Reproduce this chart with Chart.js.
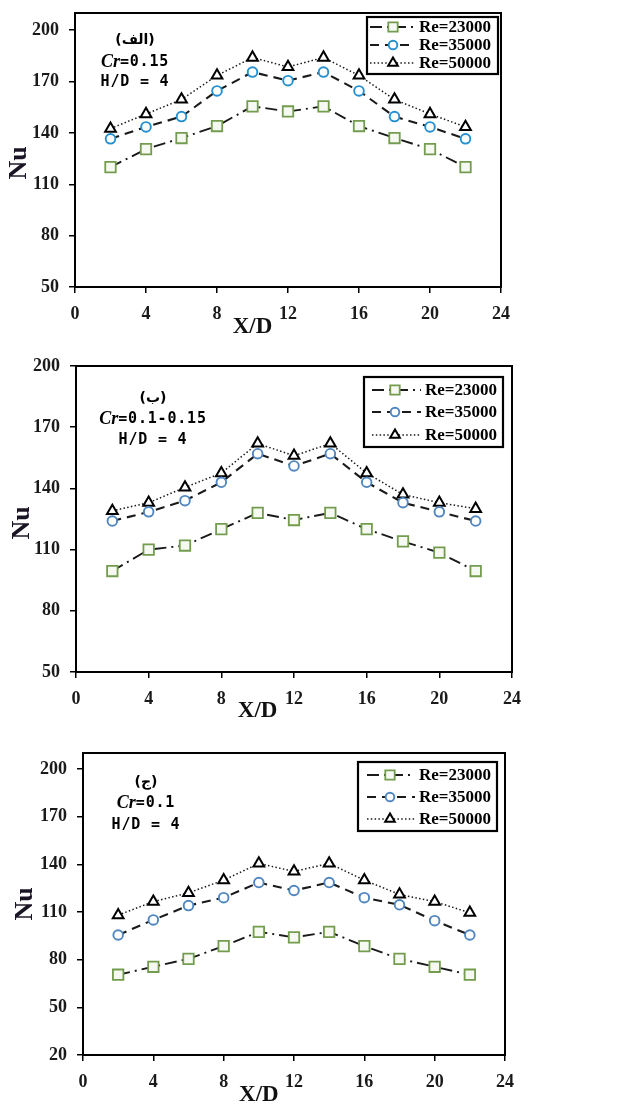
<!DOCTYPE html>
<html>
<head>
<meta charset="utf-8">
<script src="https://cdn.jsdelivr.net/npm/chart.js@4.4.1/dist/chart.umd.min.js"></script>
<style>
  html, body { margin: 0; padding: 0; background: #ffffff; }
  body { width: 644px; height: 1104px; position: relative; overflow: hidden; }
  .panel { position: absolute; left: 0; width: 644px; }
</style>
</head>
<body>
<div class="panel" id="p1" style="top:0px;height:340px;"><canvas id="c1"></canvas></div>
<div class="panel" id="p2" style="top:350px;height:372px;"><canvas id="c2"></canvas></div>
<div class="panel" id="p3" style="top:720px;height:384px;"><canvas id="c3"></canvas></div>
<script>
// ---------- data ----------
const xdValues = [2, 4, 6, 8, 10, 12, 14, 16, 18, 20, 22];
const seriesLabels = ['Re=23000', 'Re=35000', 'Re=50000'];
const xTicks = [0, 4, 8, 12, 16, 20, 24];

// (الف) Cr = 0.15
const a_re23000 = [120, 130.5, 137, 144, 155.5, 152.5, 155.5, 144, 137, 130.5, 120];
const a_re35000 = [136.5, 143.5, 149.5, 164.5, 175.5, 170.5, 175.5, 164.5, 149.5, 143.5, 136.5];
const a_re50000 = [142.5, 151, 159.5, 173.5, 184, 178.5, 184, 173.5, 159.5, 151, 143.5];
const a_yTicks = [50, 80, 110, 140, 170, 200];

// (ب) Cr = 0.1-0.15
const b_re23000 = [99.5, 110, 112, 120, 128, 124.5, 128, 120, 114, 108.5, 99.5];
const b_re35000 = [124, 128.5, 134, 143, 157, 151, 157, 143, 133, 128.5, 124];
const b_re50000 = [129, 133, 140.5, 147.5, 162, 156, 162, 147.5, 137, 133, 130];
const b_yTicks = [50, 80, 110, 140, 170, 200];

// (ج) Cr = 0.1
const c_re23000 = [70.5, 75.5, 80.5, 88.5, 97.5, 94, 97.5, 88.5, 80.5, 75.5, 70.5];
const c_re35000 = [95.5, 105, 114, 119, 128.5, 123.5, 128.5, 119, 114.5, 104.5, 95.5];
const c_re50000 = [108, 116.5, 122, 130, 140.5, 135.5, 140.5, 130, 121, 116.5, 109.5];
const c_yTicks = [20, 50, 80, 110, 140, 170, 200];

const panelTags = ['(الف)', '(ب)', '(ج)'];
const panelCr = ['0.15', '0.1-0.15', '0.1'];
const xTitle = 'X/D';
const yTitle = 'Nu';

// ---------- styles ----------
const SERIF = '"Liberation Serif", "Times New Roman", serif';
const MONO = '"DejaVu Sans Mono", monospace';

function makeDatasets(v23, v35, v50, circleColor) {
  const pts = v => xdValues.map((x, i) => ({ x: x, y: v[i] }));
  return [
    { label: seriesLabels[0], data: pts(v23), borderColor: '#1a1a1a', borderWidth: 1.9,
      borderDash: [12, 5, 2, 5], pointStyle: 'rect', pointRadius: 7.4, pointBorderWidth: 1.8,
      pointBorderColor: '#739c4f', pointBackgroundColor: '#f6f9f2', tension: 0 },
    { label: seriesLabels[1], data: pts(v35), borderColor: '#1a1a1a', borderWidth: 2.1,
      borderDash: [9, 6], pointStyle: 'circle', pointRadius: 4.8, pointBorderWidth: 1.9,
      pointBorderColor: circleColor, pointBackgroundColor: '#ffffff', tension: 0 },
    { label: seriesLabels[2], data: pts(v50), borderColor: '#1a1a1a', borderWidth: 1.5,
      borderDash: [1.5, 2.3], pointStyle: 'triangle', pointRadius: 6.2, pointBorderWidth: 2,
      pointBorderColor: '#000000', pointBackgroundColor: '#ffffff', tension: 0 }
  ];
}

const framePlugin = {
  id: 'frame',
  afterDatasetsDraw(chart, args, o) {
    const ctx = chart.ctx, a = chart.chartArea;
    ctx.save();
    ctx.setLineDash([]);
    // frame
    ctx.strokeStyle = '#000'; ctx.lineWidth = 2;
    ctx.strokeRect(a.left, a.top, a.right - a.left, a.bottom - a.top);
    // legend box
    const L = o.legend;
    ctx.fillStyle = '#fff';
    ctx.fillRect(L.x, L.y, L.w, L.h);
    ctx.lineWidth = 2.2;
    ctx.strokeRect(L.x, L.y, L.w, L.h);
    chart.data.datasets.forEach((ds, i) => {
      const y = L.rows[i];
      ctx.save();
      ctx.strokeStyle = ds.borderColor; ctx.lineWidth = ds.borderWidth;
      ctx.setLineDash(ds.borderDash);
      ctx.beginPath(); ctx.moveTo(L.lineX0, y); ctx.lineTo(L.lineX1, y); ctx.stroke();
      ctx.setLineDash([]);
      ctx.fillStyle = ds.pointBackgroundColor; ctx.strokeStyle = ds.pointBorderColor;
      ctx.lineWidth = ds.pointBorderWidth;
      Chart.helpers.drawPoint(ctx, { pointStyle: ds.pointStyle, radius: ds.pointRadius * 0.9,
        borderWidth: ds.pointBorderWidth, rotation: 0 }, L.markX, y);
      ctx.restore();
      ctx.fillStyle = '#000';
      ctx.font = 'bold 17px ' + SERIF;
      ctx.textAlign = 'left'; ctx.textBaseline = 'middle';
      ctx.fillText(ds.label, L.textX, y + 1);
    });
    // annotations
    const N = o.note;
    ctx.fillStyle = '#000';
    ctx.textBaseline = 'middle'; ctx.textAlign = 'center';
    ctx.font = 'bold 14px "DejaVu Sans", sans-serif';
    ctx.fillText(N.tag, N.cx, N.y0);
    // Cr line
    const crFont = 'italic bold 18px ' + SERIF;
    const valFont = 'bold 15px ' + MONO;
    ctx.font = crFont; const w1 = ctx.measureText('Cr').width;
    ctx.font = valFont;
    if ('letterSpacing' in ctx) ctx.letterSpacing = '0.8px';
    const valStr = '=' + N.cr;
    const w2 = ctx.measureText(valStr).width;
    const start = N.cx - (w1 + w2) / 2;
    ctx.textAlign = 'left';
    ctx.font = crFont; if ('letterSpacing' in ctx) ctx.letterSpacing = '0px';
    ctx.fillText('Cr', start, N.y1);
    ctx.font = valFont; if ('letterSpacing' in ctx) ctx.letterSpacing = '0.8px';
    ctx.fillText(valStr, start + w1, N.y1);
    ctx.textAlign = 'center';
    ctx.fillText('H/D = 4', N.cx, N.y2);
    if ('letterSpacing' in ctx) ctx.letterSpacing = '0px';
    // axis titles
    ctx.font = 'bold 23px ' + SERIF;
    ctx.fillStyle = '#111';
    const xs = chart.scales.x;
    ctx.fillText(xTitle, xs.getPixelForValue(10), o.xTitleY);
    ctx.save();
    ctx.translate(o.yTitleX, o.yTitleY);
    ctx.rotate(-Math.PI / 2);
    ctx.font = 'bold 26px ' + SERIF;
    ctx.fillStyle = '#1a1424';
    ctx.fillText(yTitle, 0, 0);
    ctx.restore();
    ctx.restore();
  }
};

function makeChart(id, datasets, yTicks, ymin, ymax, geo) {
  const tickFont = { family: SERIF, size: 18, weight: 'bold' };
  return new Chart(document.getElementById(id), {
    type: 'line',
    data: { datasets: datasets },
    plugins: [framePlugin],
    options: {
      responsive: true, maintainAspectRatio: false, animation: false,
      layout: { padding: { left: 0, top: geo.top, right: geo.right, bottom: 0 } },
      plugins: { legend: { display: false }, tooltip: { enabled: false },
        frame: { legend: geo.legend, note: geo.note, xTitleY: geo.xTitleY,
                 yTitleX: geo.yTitleX, yTitleY: geo.yTitleY } },
      scales: {
        x: {
          type: 'linear', min: 0, max: 24,
          afterBuildTicks: s => { s.ticks = xTicks.map(v => ({ value: v })); },
          afterFit: s => { s.height = geo.xh; s.paddingLeft = 0; s.paddingRight = 0; s.paddingTop = 0; s.paddingBottom = 0; },
          border: { display: false },
          grid: { drawOnChartArea: false, drawTicks: true, tickLength: 6, color: '#000', lineWidth: 1.5 },
          ticks: { color: '#1a1a1a', font: tickFont, padding: 11, maxRotation: 0, autoSkip: false }
        },
        y: {
          type: 'linear', min: ymin, max: ymax,
          afterBuildTicks: s => { s.ticks = yTicks.map(v => ({ value: v })); },
          afterFit: s => { s.width = geo.yw; s.paddingLeft = 0; s.paddingRight = 0; s.paddingTop = 0; s.paddingBottom = 0; },
          border: { display: false },
          grid: { drawOnChartArea: false, drawTicks: true, tickLength: 6, color: '#000', lineWidth: 1.5 },
          ticks: { color: '#1a1a1a', font: tickFont, padding: 10, autoSkip: false }
        }
      }
    }
  });
}

makeChart('c1', makeDatasets(a_re23000, a_re35000, a_re50000, '#2590cf'), a_yTicks, 50, 210, {
  top: 13, right: 143, yw: 75, xh: 53,
  legend: { x: 367, y: 17, w: 131, h: 57, rows: [27, 45, 63], lineX0: 370, lineX1: 414, markX: 393, textX: 419 },
  note: { tag: panelTags[0], cr: panelCr[0], cx: 135, y0: 40, y1: 62, y2: 82 },
  xTitleY: 327, yTitleX: 19, yTitleY: 163
});
makeChart('c2', makeDatasets(b_re23000, b_re35000, b_re50000, '#4f86c0'), b_yTicks, 50, 200, {
  top: 16, right: 132, yw: 76, xh: 50,
  legend: { x: 364, y: 27, w: 139, h: 70, rows: [40, 62, 85], lineX0: 372, lineX1: 421, markX: 395, textX: 425 },
  note: { tag: panelTags[1], cr: panelCr[1], cx: 153, y0: 48, y1: 69, y2: 90 },
  xTitleY: 361, yTitleX: 22, yTitleY: 173
});
makeChart('c3', makeDatasets(c_re23000, c_re35000, c_re50000, '#4f86c0'), c_yTicks, 20, 210, {
  top: 33, right: 139, yw: 83, xh: 49,
  legend: { x: 358, y: 42, w: 139, h: 69, rows: [55, 77, 99], lineX0: 367, lineX1: 415, markX: 390, textX: 419 },
  note: { tag: panelTags[2], cr: panelCr[2], cx: 146, y0: 62, y1: 83, y2: 105 },
  xTitleY: 375, yTitleX: 25, yTitleY: 184
});
</script>
</body>
</html>
